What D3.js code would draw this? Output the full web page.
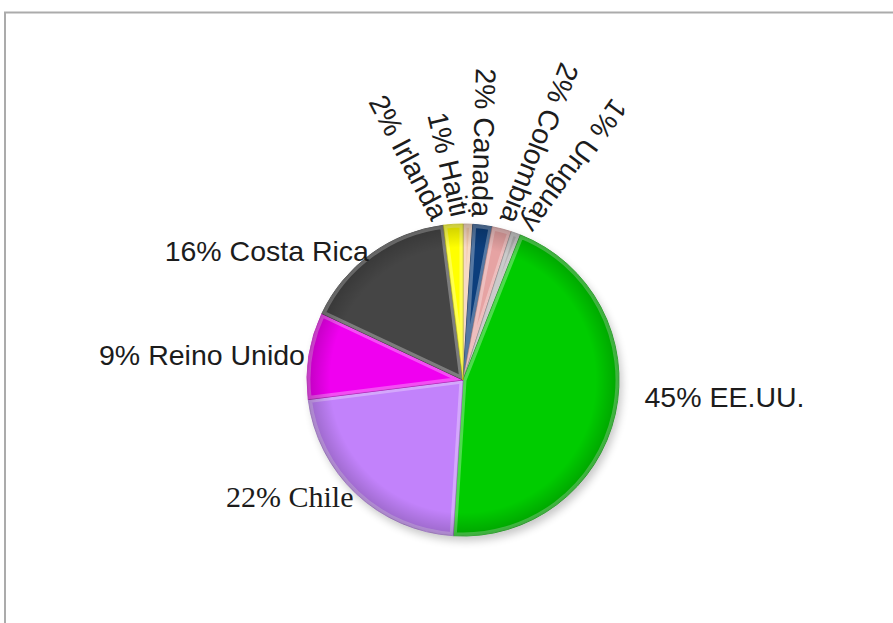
<!DOCTYPE html>
<html>
<head>
<meta charset="utf-8">
<script src="https://cdn.jsdelivr.net/npm/d3@7"></script>
<style>
  html, body { margin: 0; padding: 0; background: #fff; }
  svg { display: block; }
</style>
</head>
<body>
<div id="chart"></div>
<script>
// slices clockwise from 12 o'clock, as in the original
var countries = ["Haiti", "Canada", "Colombia", "Uruguay", "EE.UU.", "Chile", "Reino Unido", "Costa Rica", "Irlanda"];
var shares = [1, 2, 2, 1, 45, 22, 9, 16, 2];
var colors = ["#f2c9ab", "#0c3e7c", "#e6a3a3", "#b3b3b3", "#00cc00", "#c282fb", "#f000f0", "#454545", "#ffff00"];
// the small slices at the top get rotated labels
var rotated = ["Haiti", "Canada", "Colombia", "Uruguay", "Irlanda"];

var width = 893, height = 623,
    cx = 463, cy = 380, radius = 156;

var svg = d3.select("#chart").append("svg")
    .attr("width", width)
    .attr("height", height);

// frame (only top and left edges show)
svg.append("path")
    .attr("d", "M5,623 V12.5 H893")
    .attr("fill", "none")
    .attr("stroke", "#ababab")
    .attr("stroke-width", 2);

var defs = svg.append("defs");

var blur = defs.append("filter").attr("id", "shadow")
    .attr("x", "-20%").attr("y", "-20%").attr("width", "140%").attr("height", "140%");
blur.append("feGaussianBlur").attr("stdDeviation", 4);

// gradient lives in the pie group's coordinates
var rim = defs.append("radialGradient").attr("id", "rim")
    .attr("gradientUnits", "userSpaceOnUse")
    .attr("cx", 0).attr("cy", 0).attr("r", radius);
rim.append("stop").attr("offset", "0%").attr("stop-color", "#000").attr("stop-opacity", 0);
rim.append("stop").attr("offset", "85%").attr("stop-color", "#000").attr("stop-opacity", 0);
rim.append("stop").attr("offset", "100%").attr("stop-color", "#000").attr("stop-opacity", 0.2);

var pie = d3.pie().sort(null).value(function (d) { return d; });
var arcs = pie(shares);
var arc = d3.arc().innerRadius(0).outerRadius(radius);

var g = svg.append("g").attr("transform", "translate(" + cx + "," + cy + ")");

g.append("circle")
    .attr("cx", 3).attr("cy", 5).attr("r", radius)
    .attr("fill", "#000").attr("opacity", 0.22)
    .attr("filter", "url(#shadow)");

arcs.forEach(function (d, i) {
    defs.append("clipPath").attr("id", "clip" + i)
        .append("path").attr("d", arc(d));
});

var slices = g.selectAll(".slice")
    .data(arcs)
    .enter()
    .append("g")
    .attr("class", "slice");

slices.append("path")
    .attr("d", arc)
    .attr("fill", function (d, i) { return colors[i]; })
    .attr("stroke", function (d, i) { return d3.color(colors[i]).darker(0.8); })
    .attr("stroke-width", 0.8);

// bevel highlight along each slice edge
slices.append("path")
    .attr("d", arc)
    .attr("fill", "none")
    .attr("stroke", "#fff")
    .attr("stroke-opacity", 0.3)
    .attr("stroke-width", 7)
    .attr("clip-path", function (d, i) { return "url(#clip" + i + ")"; });

g.append("circle")
    .attr("r", radius)
    .attr("fill", "url(#rim)");

// labels
var deg = 180 / Math.PI;

function midDeg(d) { return (d.startAngle + d.endAngle) / 2 * deg; }

function labelText(i) { return shares[i] + "% " + countries[i]; }

var flat = arcs.filter(function (d, i) { return rotated.indexOf(countries[i]) < 0; });
var fan = arcs.filter(function (d, i) { return rotated.indexOf(countries[i]) >= 0; });

g.selectAll(".flat-label")
    .data(flat)
    .enter()
    .append("text")
    .attr("class", "flat-label")
    .each(function (d) {
        var a = midDeg(d) / deg,
            right = Math.sin(a) > 0,
            r = right ? radius + 30 : radius + 4,
            x = r * Math.sin(a),
            y = -r * Math.cos(a) - (right ? 24 : 0);
        d3.select(this)
            .attr("x", x)
            .attr("y", y)
            .attr("dy", "0.35em")
            .style("text-anchor", right ? "start" : "end");
    })
    .style("font-family", function (d) {
        return countries[d.index] === "Chile" ? "'Liberation Serif', serif" : "'Liberation Sans', Arial, sans-serif";
    })
    .style("font-size", function (d) { return countries[d.index] === "Chile" ? "30px" : "28.5px"; })
    .attr("fill", "#1c1c1c")
    .text(function (d) { return labelText(d.index); });

// rotated labels fan out more than their slices do
g.selectAll(".fan-label")
    .data(fan)
    .enter()
    .append("text")
    .attr("class", "fan-label")
    .each(function (d) {
        var m = midDeg(d);
        if (m > 180) { m -= 360; }
        var p = (1.34 * m - 3.1) / deg,
            r = radius + 8,
            x = r * Math.sin(p),
            y = -r * Math.cos(p),
            rot = 72 + 2.73 * m;
        d3.select(this)
            .attr("transform", "translate(" + x + "," + y + ") rotate(" + rot + ")")
            .attr("dy", "0.35em");
    })
    .style("text-anchor", "end")
    .style("font-family", "'Liberation Sans', Arial, sans-serif")
    .style("font-size", "28.5px")
    .attr("fill", "#1c1c1c")
    .text(function (d) { return labelText(d.index); });
</script>
</body>
</html>
